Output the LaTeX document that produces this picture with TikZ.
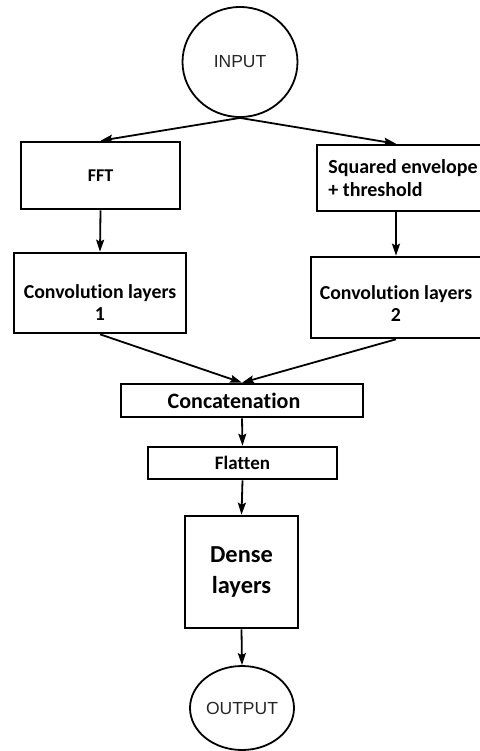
\documentclass[tikz,border=0pt]{standalone}
\usepackage{fontspec}
\setmainfont{Carlito}[Ligatures=NoCommon]
\newfontfamily\arialfont{Liberation Sans}
\usetikzlibrary{shapes.geometric, arrows.meta}

\begin{document}
\begin{tikzpicture}[
		x=1pt, y=-1pt,
		>={Stealth[length=12pt, width=8pt, inset=2pt]},
		io/.style={ellipse, draw=black, line width=1.8pt, inner sep=0pt, font=\arialfont\fontsize{17.5}{20}\selectfont, text=black!85},
		block/.style={rectangle, draw=black, line width=2.6pt, inner sep=2pt, align=center, font=\bfseries\fontsize{19.8}{22}\selectfont},
		arr/.style={->, line width=1.8pt}
	]

	\useasboundingbox (0,0) rectangle (479,751);

	% Input and the two branches
	\node[io, minimum width=115pt, minimum height=110pt] (input) at (240, 62) {INPUT};
	\node[block, minimum width=159pt, minimum height=67pt, font=\bfseries\fontsize{18}{22}\selectfont] (fft) at (100.5, 175.5) {FFT};
	\node[block, minimum width=172pt, minimum height=66pt, align=left, font=\bfseries\fontsize{20}{23}\selectfont] (env) at (403, 178) {Squared envelope\\+ threshold};
	\node[block, minimum width=172pt, minimum height=80pt] (conv_a) at (100, 293) {\rule{0pt}{33pt}Convolution layers\\1};
	\node[block, minimum width=170pt, minimum height=81pt] (conv_b) at (396, 297.5) {\rule{0pt}{25pt}Convolution layers\\2};
	\draw[arr] (input.south) -- (fft.north);
	\draw[arr] (input.south) -- (env.north -| conv_b.north);
	\draw[arr] (fft.south) -- (conv_a.north);
	\draw[arr] (env.south -| conv_b.north) -- (conv_b.north);

	% Merge
	\node[block, minimum width=242pt, minimum height=33pt, font=\bfseries\fontsize{22}{24}\selectfont] (concat) at (242, 400.5) {Concatenation\hspace*{16pt}};
	\node[block, minimum width=189pt, minimum height=32pt, font=\bfseries\fontsize{19}{21}\selectfont] (flat) at (242.5, 463) {Flatten};
	\node[block, minimum width=113pt, minimum height=112pt, font=\bfseries\fontsize{24.4}{31}\selectfont] (dense) at (241.5, 572) {Dense\\layers};
	\node[io, minimum width=104pt, minimum height=84pt] (output) at (242, 708) {OUTPUT};
	\draw[arr] (conv_a.south) -- (concat.north);
	\draw[arr] (conv_b.south) -- (concat.north);
	\draw[arr] (concat.south) -- (flat.north);
	\draw[arr] (flat.south) -- (dense.north);
	\draw[arr] (dense.south) -- (output.north);

\end{tikzpicture}
\end{document}
